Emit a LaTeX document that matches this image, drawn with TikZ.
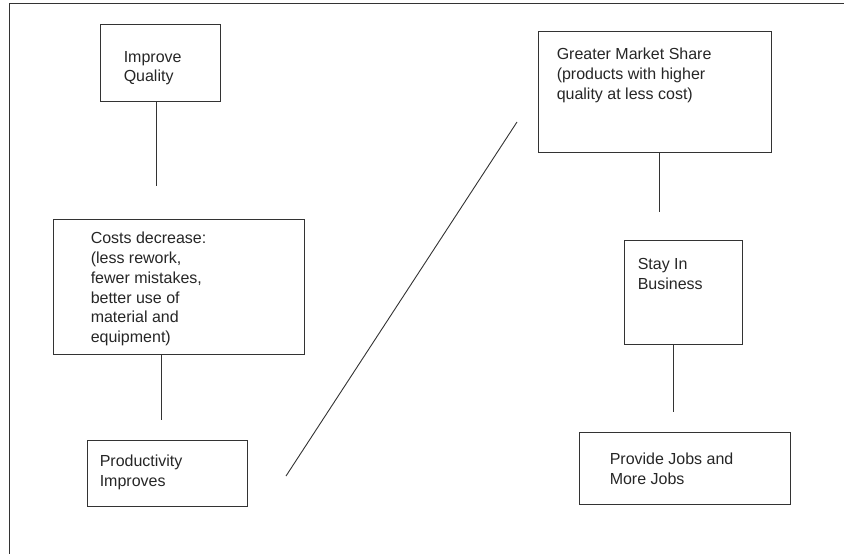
\documentclass[tikz,border=0pt]{standalone}
\usepackage{fontspec}
\setmainfont{Liberation Sans}
\begin{document}
\begin{tikzpicture}[x=1pt,y=-1pt,
		box/.style={draw=black!80, line width=0.9pt, rectangle, inner sep=0pt},
		boxtext/.style={anchor=north west, inner sep=0pt, align=left, text=black!85, font=\fontsize{16}{19.8}\selectfont},
		link/.style={draw=black!80, line width=0.9pt}]
			\useasboundingbox (0,0) rectangle (844,554);

			% Frame (left and top edges)
			\draw[link] (9,554) -- (9,3) -- (844,3);

			% Left column
			\node[box, minimum width=120pt, minimum height=77pt] (quality) at (160,62.5) {};
			\node[boxtext] (qualitytext) at ([shift={(24,27.3)}]quality.north west) {Improve\\Quality};
			\node[box, minimum width=251pt, minimum height=135pt] (costs) at (178.5,286.5) {};
			\node[boxtext] (coststext) at ([shift={(38,13.3)}]costs.north west) {Costs decrease:\\(less rework,\\fewer mistakes,\\better use of\\material and\\equipment)};
			\node[box, minimum width=160pt, minimum height=66pt] (productivity) at (167,473) {};
			\node[boxtext] (productivitytext) at ([shift={(13,15)}]productivity.north west) {Productivity\\Improves};

			% Right column
			\node[box, minimum width=233pt, minimum height=121pt] (market) at (654.5,91.5) {};
			\node[boxtext] (markettext) at ([shift={(19,17.3)}]market.north west) {Greater Market Share\\(products with higher\\quality at less cost)};
			\node[box, minimum width=118pt, minimum height=104pt] (business) at (683,292) {};
			\node[boxtext] (businesstext) at ([shift={(14,19)}]business.north west) {Stay In\\Business};
			\node[box, minimum width=211pt, minimum height=72pt] (jobs) at (684.5,468) {};
			\node[boxtext] (jobstext) at ([shift={(31,21.3)}]jobs.north west) {Provide Jobs and\\More Jobs};

			% Connector ends
			\coordinate (qualityend) at (156,186);
			\coordinate (costsend) at (161,420);
			\coordinate (marketend) at (659,212);
			\coordinate (businessend) at (673,412);
			\coordinate (crosslow) at (286,476);
			\coordinate (crosshigh) at (517,122);

			% Connectors
			\draw[link] (quality.south -| qualityend) -- (qualityend);
			\draw[link] (costs.south -| costsend) -- (costsend);
			\draw[link] (crosslow) -- (crosshigh);
			\draw[link] (market.south -| marketend) -- (marketend);
			\draw[link] (business.south -| businessend) -- (businessend);
		\end{tikzpicture}
\end{document}
